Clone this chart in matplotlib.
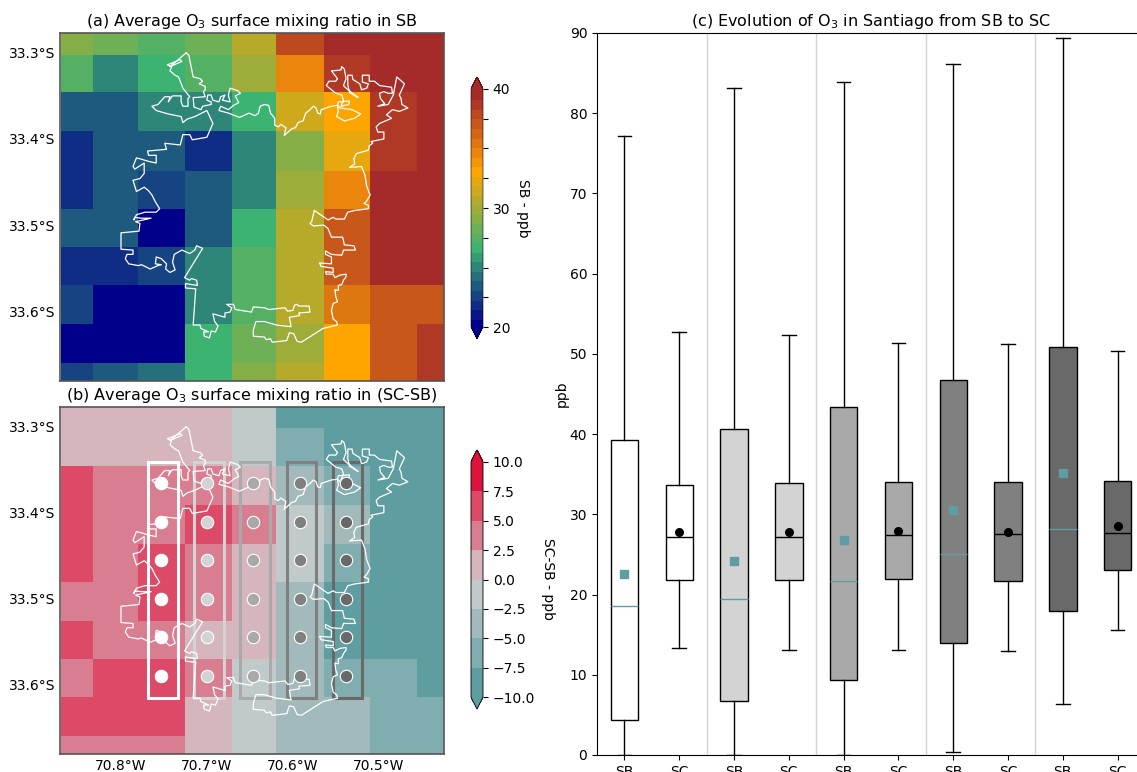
#!/usr/bin/env python3

import numpy as np
import matplotlib
matplotlib.use('Agg')
import matplotlib.pyplot as plt
from matplotlib.colors import BoundaryNorm, LinearSegmentedColormap, ListedColormap
from matplotlib.patches import Rectangle

W, H = 1137, 772

lon_edges = [-70.870, -70.833, -70.780, -70.726, -70.671, -70.619, -70.564,
             -70.510, -70.455, -70.424]
lat_edges = [-33.277, -33.302, -33.346, -33.391, -33.437, -33.481, -33.526,
             -33.570, -33.615, -33.660, -33.681]

# top row first
sb_map = [
    [29.0, 28.0, 27.5, 28.0, 31.0, 38.0, 40.0, 40.0, 40.0],
    [27.5, 25.5, 26.5, 27.5, 29.8, 34.8, 38.8, 40.0, 40.0],
    [23.5, 23.5, 25.0, 25.0, 26.7, 31.8, 33.3, 38.5, 40.0],
    [22.3, 23.5, 23.5, 22.3, 25.0, 29.0, 32.5, 39.0, 40.0],
    [22.3, 23.5, 22.5, 23.5, 25.5, 30.0, 35.0, 40.0, 40.0],
    [23.7, 23.7, 20.0, 23.5, 26.7, 31.0, 37.5, 40.0, 40.0],
    [21.7, 21.7, 22.7, 25.5, 27.7, 31.0, 37.5, 40.0, 40.0],
    [22.5, 20.0, 20.7, 25.0, 27.5, 31.0, 35.5, 37.0, 37.5],
    [20.0, 20.0, 20.5, 26.7, 28.5, 30.0, 33.3, 36.8, 38.5],
    [22.5, 23.7, 24.5, 26.7, 29.0, 31.0, 33.3, 36.8, 38.5],
]
diff_map = [
    [1.2, 1.2, 1.2, 1.2, -1.2, -8.8, -8.8, -8.8, -8.8],
    [1.2, 1.2, 1.2, 1.2, -1.2, -6.2, -8.8, -8.8, -8.8],
    [6.2, 3.8, 3.8, 3.8, 1.2, -3.8, -6.2, -8.8, -8.8],
    [6.2, 3.8, 3.8, 6.2, 3.8, -1.2, -3.8, -8.8, -8.8],
    [6.2, 3.8, 6.2, 3.8, 1.2, -1.2, -6.2, -8.8, -8.8],
    [3.8, 3.8, 6.2, 3.8, 1.2, -3.8, -8.8, -8.8, -8.8],
    [6.2, 3.8, 3.8, 1.2, 1.2, -3.8, -8.8, -8.8, -8.8],
    [3.8, 6.2, 6.2, 3.8, -1.2, -3.8, -6.2, -6.2, -8.8],
    [6.2, 6.2, 6.2, 1.2, -1.2, -3.8, -3.8, -6.2, -6.2],
    [3.8, 3.8, 3.8, 1.2, -1.2, -3.8, -3.8, -6.2, -6.2],
]

city_w = [
    70.724, 70.721, 70.716, 70.708, 70.705, 70.709, 70.702, 70.702, 70.704, 70.702,
    70.716, 70.715, 70.707, 70.705, 70.695, 70.695, 70.700, 70.699, 70.695, 70.693,
    70.686, 70.684, 70.679, 70.682, 70.673, 70.675, 70.673, 70.664, 70.661, 70.667,
    70.663, 70.669, 70.675, 70.684, 70.686, 70.675, 70.662, 70.651, 70.644, 70.640,
    70.638, 70.633, 70.628, 70.626, 70.621, 70.621, 70.617, 70.614, 70.608, 70.610,
    70.601, 70.597, 70.594, 70.588, 70.585, 70.581, 70.576, 70.573, 70.571, 70.568,
    70.567, 70.555, 70.548, 70.547, 70.549, 70.540, 70.528, 70.521, 70.531, 70.545,
    70.548, 70.547, 70.534, 70.535, 70.544, 70.541, 70.543, 70.550, 70.561, 70.558,
    70.550, 70.548, 70.555, 70.544, 70.543, 70.540, 70.538, 70.541, 70.538, 70.533,
    70.524, 70.534, 70.536, 70.536, 70.531, 70.530, 70.522, 70.520, 70.514, 70.512,
    70.519, 70.519, 70.511, 70.511, 70.505, 70.499, 70.485, 70.484, 70.489, 70.494,
    70.499, 70.498, 70.493, 70.501, 70.489, 70.483, 70.479, 70.470, 70.476, 70.474,
    70.473, 70.466, 70.476, 70.484, 70.491, 70.485, 70.499, 70.503, 70.501, 70.494,
    70.494, 70.509, 70.507, 70.511, 70.512, 70.526, 70.529, 70.528, 70.534, 70.520,
    70.516, 70.514, 70.510, 70.514, 70.517, 70.512, 70.512, 70.528, 70.536, 70.540,
    70.550, 70.553, 70.559, 70.575, 70.578, 70.580, 70.576, 70.564, 70.559, 70.555,
    70.542, 70.540, 70.529, 70.527, 70.541, 70.543, 70.555, 70.562, 70.562, 70.555,
    70.555, 70.569, 70.567, 70.553, 70.553, 70.562, 70.561, 70.553, 70.551, 70.545,
    70.538, 70.538, 70.541, 70.543, 70.547, 70.547, 70.551, 70.550, 70.548, 70.553,
    70.555, 70.553, 70.549, 70.548, 70.565, 70.590, 70.595, 70.599, 70.604, 70.607,
    70.624, 70.626, 70.631, 70.633, 70.646, 70.646, 70.643, 70.633, 70.619, 70.602,
    70.604, 70.592, 70.593, 70.580, 70.581, 70.593, 70.595, 70.598, 70.600, 70.606,
    70.609, 70.628, 70.633, 70.646, 70.648, 70.667, 70.669, 70.677, 70.671, 70.673,
    70.679, 70.679, 70.693, 70.691, 70.687, 70.690, 70.695, 70.697, 70.703, 70.704,
    70.698, 70.707, 70.708, 70.716, 70.713, 70.725, 70.725, 70.711, 70.712, 70.718,
    70.720, 70.726, 70.705, 70.712, 70.714, 70.720, 70.729, 70.738, 70.740, 70.737,
    70.743, 70.748, 70.747, 70.753, 70.759, 70.760, 70.753, 70.757, 70.766, 70.776,
    70.780, 70.791, 70.795, 70.793, 70.786, 70.786, 70.800, 70.800, 70.779, 70.778,
    70.783, 70.765, 70.777, 70.784, 70.785, 70.782, 70.772, 70.759, 70.755, 70.760,
    70.764, 70.768, 70.773, 70.782, 70.786, 70.778, 70.773, 70.773, 70.784, 70.786,
    70.782, 70.778, 70.768, 70.759, 70.759, 70.768, 70.769, 70.747, 70.749, 70.731,
    70.728, 70.720, 70.717, 70.700, 70.693, 70.700, 70.714, 70.723, 70.728, 70.730,
    70.745, 70.759, 70.764, 70.757, 70.749, 70.743, 70.745, 70.741, 70.740, 70.730,
    70.730, 70.728, 70.722, 70.722, 70.720, 70.728, 70.733, 70.737, 70.743, 70.741,
    70.746, 70.731, 70.729, 70.743, 70.724,
]
city_s = [
    33.300, 33.303, 33.328, 33.330, 33.333, 33.336, 33.339, 33.343, 33.345, 33.351,
    33.352, 33.363, 33.366, 33.362, 33.360, 33.357, 33.355, 33.349, 33.349, 33.355,
    33.357, 33.351, 33.349, 33.355, 33.357, 33.349, 33.341, 33.344, 33.347, 33.350,
    33.358, 33.361, 33.366, 33.362, 33.367, 33.370, 33.375, 33.370, 33.373, 33.370,
    33.362, 33.360, 33.361, 33.370, 33.376, 33.384, 33.386, 33.383, 33.387, 33.396,
    33.388, 33.387, 33.381, 33.379, 33.370, 33.367, 33.362, 33.364, 33.370, 33.371,
    33.366, 33.362, 33.361, 33.368, 33.374, 33.379, 33.376, 33.371, 33.366, 33.364,
    33.361, 33.357, 33.356, 33.360, 33.362, 33.355, 33.349, 33.347, 33.338, 33.333,
    33.333, 33.330, 33.321, 33.320, 33.316, 33.319, 33.330, 33.338, 33.341, 33.345,
    33.352, 33.346, 33.337, 33.326, 33.326, 33.331, 33.336, 33.343, 33.341, 33.336,
    33.334, 33.326, 33.326, 33.333, 33.333, 33.338, 33.340, 33.347, 33.347, 33.345,
    33.347, 33.353, 33.359, 33.362, 33.360, 33.349, 33.328, 33.336, 33.349, 33.353,
    33.360, 33.364, 33.368, 33.366, 33.372, 33.376, 33.382, 33.386, 33.392, 33.392,
    33.400, 33.403, 33.405, 33.408, 33.413, 33.417, 33.423, 33.429, 33.433, 33.432,
    33.442, 33.455, 33.465, 33.472, 33.475, 33.477, 33.481, 33.483, 33.485, 33.493,
    33.493, 33.491, 33.494, 33.483, 33.496, 33.498, 33.501, 33.500, 33.504, 33.514,
    33.514, 33.523, 33.524, 33.529, 33.529, 33.535, 33.534, 33.530, 33.534, 33.537,
    33.545, 33.544, 33.548, 33.550, 33.555, 33.554, 33.557, 33.557, 33.561, 33.558,
    33.557, 33.560, 33.564, 33.569, 33.570, 33.576, 33.575, 33.583, 33.589, 33.591,
    33.599, 33.609, 33.612, 33.616, 33.620, 33.636, 33.635, 33.626, 33.625, 33.634,
    33.636, 33.632, 33.633, 33.630, 33.629, 33.622, 33.612, 33.612, 33.616, 33.618,
    33.607, 33.605, 33.602, 33.601, 33.594, 33.594, 33.592, 33.593, 33.599, 33.600,
    33.596, 33.598, 33.596, 33.595, 33.601, 33.598, 33.592, 33.592, 33.596, 33.601,
    33.602, 33.607, 33.603, 33.612, 33.617, 33.624, 33.623, 33.631, 33.629, 33.624,
    33.624, 33.620, 33.616, 33.616, 33.574, 33.573, 33.568, 33.570, 33.564, 33.562,
    33.564, 33.561, 33.527, 33.524, 33.529, 33.533, 33.529, 33.534, 33.543, 33.552,
    33.555, 33.551, 33.545, 33.539, 33.537, 33.545, 33.546, 33.547, 33.551, 33.546,
    33.547, 33.545, 33.539, 33.534, 33.534, 33.529, 33.528, 33.509, 33.507, 33.498,
    33.496, 33.492, 33.492, 33.491, 33.494, 33.488, 33.485, 33.485, 33.481, 33.473,
    33.465, 33.460, 33.456, 33.461, 33.448, 33.446, 33.440, 33.428, 33.435, 33.432,
    33.422, 33.423, 33.426, 33.428, 33.419, 33.419, 33.414, 33.412, 33.405, 33.407,
    33.395, 33.395, 33.401, 33.398, 33.382, 33.367, 33.374, 33.377, 33.381, 33.374,
    33.371, 33.367, 33.362, 33.360, 33.351, 33.351, 33.357, 33.351, 33.350, 33.350,
    33.357, 33.362, 33.362, 33.353, 33.351, 33.341, 33.328, 33.326, 33.321, 33.316,
    33.314, 33.308, 33.310, 33.316, 33.300,
]

station_lons = [-70.753, -70.700, -70.646, -70.592, -70.538]
station_lats = [-33.366, -33.411, -33.455, -33.500, -33.545, -33.590]
box_west = [-70.769, -70.715, -70.661, -70.607, -70.553]
box_east = [-70.734, -70.680, -70.627, -70.573, -70.520]
box_north = -33.341
box_south = -33.616
group_colors = ['white', 'lightgrey', 'darkgrey', 'grey', 'dimgrey']

tick_labels = ['SB', 'SC'] * 5
q1 = [4.4, 21.8, 6.7, 21.8, 9.3, 21.9, 14.0, 21.7, 18.0, 23.1]
med = [18.6, 27.2, 19.5, 27.2, 21.7, 27.4, 25.0, 27.5, 28.2, 27.7]
q3 = [39.3, 33.7, 40.6, 33.9, 43.4, 34.0, 46.8, 34.0, 50.9, 34.1]
whislo = [0.0, 13.3, 0.0, 13.1, 0.0, 13.1, 0.4, 13.0, 6.3, 15.6]
whishi = [77.2, 52.7, 83.2, 52.4, 83.9, 51.4, 86.1, 51.2, 89.4, 50.4]
means = [22.6, 27.8, 24.2, 27.8, 26.8, 27.9, 30.6, 27.8, 35.1, 28.5]

plt.rcParams['font.size'] = 10
plt.rcParams['mathtext.default'] = 'regular'


def add_axes_px(left, top, right, bottom):
    return fig.add_axes([left / W, 1 - bottom / H, (right - left) / W, (bottom - top) / H])


def lon_label(v):
    return '%.1f°W' % abs(v)


def draw_map(ax, values, cmap, norm):
    mesh = ax.pcolormesh(lon_edges, lat_edges, values, cmap=cmap, norm=norm)
    ax.plot(-np.array(city_w), -np.array(city_s), color='white', lw=0.9)
    ax.set_xlim(-70.871, -70.424)
    ax.set_ylim(-33.681, -33.277)
    ax.set_yticks([-33.3, -33.4, -33.5, -33.6])
    ax.set_yticklabels(['33.3°S', '33.4°S', '33.5°S', '33.6°S'])
    ax.tick_params(length=0)
    for s in ax.spines.values():
        s.set_color('#555555')
        s.set_linewidth(1.2)
    return mesh


fig = plt.figure(figsize=(W / 100, H / 100), dpi=100)

# panel a
levels_a = np.linspace(20, 40, 26)
cmap_a = LinearSegmentedColormap.from_list(
    'sb', ['darkblue', 'mediumseagreen', 'orange', 'brown'], N=25)
cmap_a.set_under('darkblue')
cmap_a.set_over('brown')
norm_a = BoundaryNorm(levels_a, 25)

ax_a = add_axes_px(60, 33, 444, 381)
mesh_a = draw_map(ax_a, sb_map, cmap_a, norm_a)
ax_a.set_xticks([])
ax_a.set_title('(a) Average O$_3$ surface mixing ratio in SB', fontsize=11.5, pad=5)

cax_a = add_axes_px(471, 77, 483, 339)
cb_a = fig.colorbar(mesh_a, cax=cax_a, extend='both', extendfrac=0.05, spacing='proportional')
cb_a.set_ticks(np.arange(20, 40.1, 2.5))
cb_a.set_ticklabels(['20', '', '', '', '30', '', '', '', '40'])
cb_a.ax.minorticks_off()
cb_a.outline.set_linewidth(0.4)
cb_a.solids.set_edgecolor('face')
cb_a.set_label('SB - ppb', rotation=270, labelpad=14)

# panel b
levels_b = np.arange(-10, 10.1, 2.5)
band_colors = ['#5f9ea0', '#80adb0', '#a2babb', '#c0cacb',
               '#d5b6bd', '#d97d90', '#dc4a68', '#dc143c']
cmap_b = ListedColormap(band_colors)
cmap_b.set_under('#5f9ea0')
cmap_b.set_over('#dc143c')
norm_b = BoundaryNorm(levels_b, 8)

ax_b = add_axes_px(60, 407, 444, 754)
mesh_b = draw_map(ax_b, diff_map, cmap_b, norm_b)
ax_b.set_xticks([-70.8, -70.7, -70.6, -70.5])
ax_b.set_xticklabels([lon_label(v) for v in [-70.8, -70.7, -70.6, -70.5]])
ax_b.set_title('(b) Average O$_3$ surface mixing ratio in (SC-SB)', fontsize=11.5, pad=5)

for i, col in enumerate(group_colors):
    ax_b.add_patch(Rectangle((box_west[i], box_south), box_east[i] - box_west[i],
                             box_north - box_south, fill=False, edgecolor=col, lw=2.2))
    ax_b.scatter([station_lons[i]] * len(station_lats), station_lats, s=80,
                 color=col, edgecolors='white', linewidths=0.8, zorder=4)

cax_b = add_axes_px(471, 450, 483, 709)
cb_b = fig.colorbar(mesh_b, cax=cax_b, extend='both', extendfrac=0.05)
cb_b.set_ticks(levels_b)
cb_b.outline.set_linewidth(0.6)
cb_b.set_label('SC-SB - ppb', rotation=270, labelpad=14)

# panel c
ax_c = add_axes_px(597, 33, 1145, 755)
fills = [c for c in group_colors for _ in range(2)]
stats = []
for i in range(10):
    stats.append({'label': tick_labels[i], 'q1': q1[i], 'med': med[i], 'q3': q3[i],
                  'whislo': whislo[i], 'whishi': whishi[i], 'mean': means[i], 'fliers': []})

for i in range(10):
    is_sb = i % 2 == 0
    ax_c.bxp([stats[i]], positions=[i + 1], widths=0.5, patch_artist=True,
             showmeans=True, showfliers=False,
             boxprops={'facecolor': fills[i], 'edgecolor': 'black', 'linewidth': 1},
             medianprops={'color': 'cadetblue' if is_sb else 'black', 'linewidth': 1},
             meanprops={'marker': 's' if is_sb else 'o', 'markersize': 5.5,
                        'markerfacecolor': 'cadetblue' if is_sb else 'black',
                        'markeredgecolor': 'cadetblue' if is_sb else 'black'})

for x in [2.5, 4.5, 6.5, 8.5]:
    ax_c.axvline(x, color='lightgrey', lw=1, zorder=0)

ax_c.set_xlim(0.5, 10.5)
ax_c.set_ylim(0, 90)
ax_c.set_xticks(range(1, 11))
ax_c.set_xticklabels(tick_labels)
ax_c.set_yticks(range(0, 91, 10))
ax_c.set_ylabel('ppb', labelpad=1)
ax_c.set_title('(c) Evolution of O$_3$ in Santiago from SB to SC', fontsize=11.5, pad=5)

fig.savefig('out.png', dpi=100)
